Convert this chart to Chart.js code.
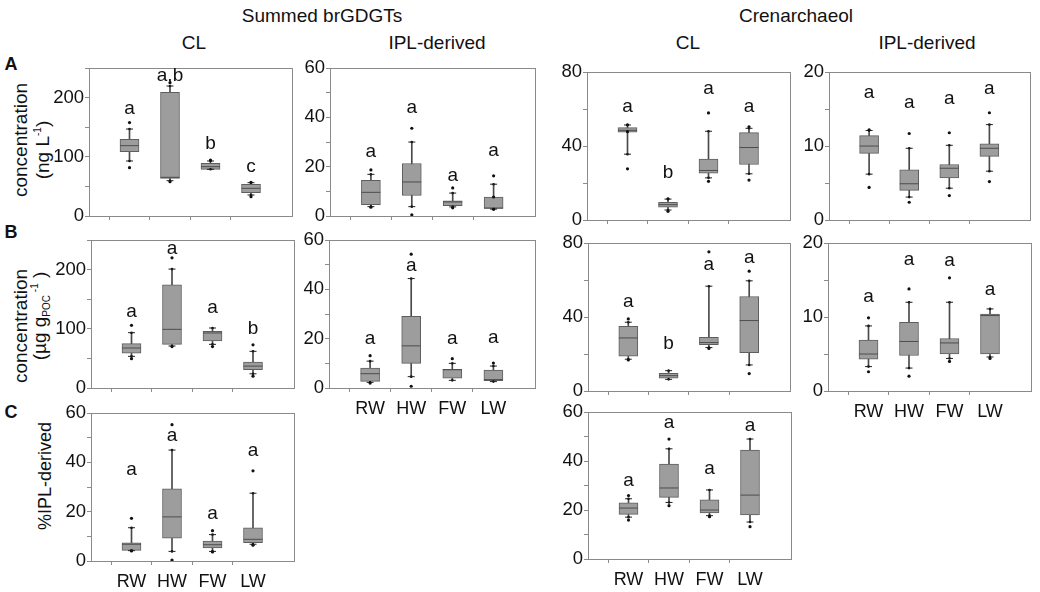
<!DOCTYPE html>
<html>
<head>
<meta charset="utf-8">
<script src="https://cdn.jsdelivr.net/npm/chart.js@4.4.1/dist/chart.umd.min.js"></script>
<style>
body { margin: 0; background: #fff; font-family: "Liberation Sans", Arial, sans-serif; color: #111; }
#fig { position: relative; width: 1040px; height: 592px; overflow: hidden; }
#fig canvas { position: absolute; }
.t { position: absolute; white-space: nowrap; transform: translate(-50%, -50%); font-size: 19px; line-height: 1; }
.v { transform: translate(-50%, -50%) rotate(-90deg); font-size: 19px; }
.p { font-weight: bold; font-size: 18px; }
sup, sub { font-size: 10px; }
</style>
</head>
<body>
<div id="fig">
  <div class="t" style="left:322px;top:15px">Summed brGDGTs</div>
  <div class="t" style="left:796px;top:15px">Crenarchaeol</div>
  <div class="t" style="left:194px;top:42px">CL</div>
  <div class="t" style="left:437px;top:42px">IPL-derived</div>
  <div class="t" style="left:688px;top:42px">CL</div>
  <div class="t" style="left:927px;top:42px">IPL-derived</div>
  <div class="t p" style="left:11px;top:64px">A</div>
  <div class="t p" style="left:11px;top:232px">B</div>
  <div class="t p" style="left:11px;top:412px">C</div>
  <div class="t v" style="left:20px;top:140px">concentration</div>
  <div class="t v" style="left:42px;top:150px">(ng L<sup>-1</sup>)</div>
  <div class="t v" style="left:20px;top:326px">concentration</div>
  <div class="t v" style="left:41px;top:316px">(µg g<sub>POC</sub><sup> -1</sup> )</div>
  <div class="t v" style="left:45px;top:476px;font-size:18px">%IPL-derived</div>
</div>
<script>
const FONT = '"Liberation Sans", Arial, sans-serif';
Chart.defaults.font.family = FONT;

const groups = ['RW', 'HW', 'FW', 'LW'];

// box stats per group: [lower whisker, Q1, median, Q3, upper whisker]
// A: concentration (ng/L)
const brClWater = [[93, 108.7, 118.9, 129.6, 147], [59.7, 63.7, 65.4, 209, 219.7], [78.9, 78.9, 83.4, 89, 93], [35.5, 39.4, 46.8, 53.5, 56.3]];
const brClWaterDots = [[158, 81.7], [225.4, 58], [94.6], [57, 32.7]];
const brClWaterSig = ['a', 'a,b', 'b', 'c'];
const brClWaterSigY = [172, 228, 114, 75];

const brIplWater = [[3.8, 4.6, 9.6, 14.5, 16.9], [3.8, 8.3, 13.8, 21.3, 30], [3.7, 4.2, 5.7, 6.2, 9.3], [2.8, 3.1, 3.2, 7.7, 12.9]];
const brIplWaterDots = [[18.7, 3.6], [35.6, 0.5], [11.4, 3.3], [16.3, 7.7, 2.7]];
const brIplWaterSig = ['a', 'a', 'a', 'a'];
const brIplWaterSigY = [24.1, 41.7, 14.4, 24.5];

const crClWater = [[35.6, 47.5, 48.5, 50, 51.4], [5.4, 7, 8.3, 9.5, 11.3], [22.8, 25.3, 26.8, 32.9, 48], [25, 30, 39.2, 47.3, 49.6]];
const crClWaterDots = [[51.5, 47.8, 27.7], [11.5, 4.7], [57.9, 20.9], [50.4, 21.6]];
const crClWaterSig = ['a', 'b', 'a', 'a'];
const crClWaterSigY = [58.4, 22.5, 68.3, 58.4];

const crIplWater = [[6.2, 9, 10, 11.4, 12.1], [3.1, 4, 4.9, 6.8, 9.7], [4.3, 5.7, 7, 7.5, 10.1], [6.6, 8.6, 9.7, 10.3, 12.9]];
const crIplWaterDots = [[12.2, 4.4], [11.7, 2.4], [11.8, 3.3], [14.5, 5.2]];
const crIplWaterSig = ['a', 'a', 'a', 'a'];
const crIplWaterSigY = [16.5, 15.1, 15.7, 17.1];

// B: concentration (ug per g POC)
const brClPoc = [[53.5, 59, 67.6, 75, 93.5], [71, 73.8, 99.2, 174.6, 201], [73.8, 79.4, 93, 95.8, 101.4], [24, 31, 37, 44, 62]];
const brClPocDots = [[106, 49.6], [220, 70], [70], [73, 20]];
const brClPocSig = ['a', 'a', 'a', 'b'];
const brClPocSigY = [120, 227, 126.8, 92];

const brIplPoc = [[2.3, 2.7, 5.8, 8.1, 10.9], [4.6, 10, 17.1, 29.1, 44.4], [3.1, 4, 7.4, 7.6, 10], [2.6, 3, 3.4, 7.3, 8.9]];
const brIplPocDots = [[13.1, 2], [54.3, 0.7], [11.9], [10.1]];
const brIplPocSig = ['a', 'a', 'a', 'a'];
const brIplPocSigY = [17.8, 47.6, 17.8, 18.2];

const crClPoc = [[17.2, 18.8, 28.7, 35, 37.2], [6.3, 7, 8.3, 9.6, 11], [23.5, 25.1, 26.2, 29, 56.7], [14.1, 20.8, 38.1, 51.1, 59.6]];
const crClPocDots = [[39, 16.8], [], [75.3, 23], [64.8, 9.4]];
const crClPocSig = ['a', 'b', 'a', 'a'];
const crClPocSigY = [45.5, 22.6, 65.4, 69.2];

const crIplPoc = [[3.3, 4.3, 5, 6.9, 8.8], [3.1, 4.8, 6.7, 9.3, 12], [4.4, 5, 6.5, 7.1, 12], [4.6, 5, 10.2, 10.4, 11.1]];
const crIplPocDots = [[9.9, 2.6], [13.8, 2], [15.3, 4], [4.4]];
const crIplPocSig = ['a', 'a', 'a', 'a'];
const crIplPocSigY = [12, 17.1, 16.9, 13];

// C: % IPL-derived
const brPctIpl = [[4.2, 4.3, 6.8, 7.4, 13.5], [3.9, 9.3, 17.9, 29.3, 45], [3.9, 5.3, 6.6, 8.1, 10.7], [6.8, 7.4, 8.8, 13.5, 27.5]];
const brPctIplDots = [[17.3, 4.1], [55.3, 0.4], [12.3, 3.7], [36.6, 6.4]];
const brPctIplSig = ['a', 'a', 'a', 'a'];
const brPctIplSigY = [34.9, 48.5, 17, 42.7];

const crPctIpl = [[17.1, 18.2, 20.8, 22.9, 24.6], [23.1, 25.2, 29, 38.8, 45], [17.7, 18.8, 20, 24.2, 28.2], [15.1, 18, 26.1, 44.5, 49]];
const crPctIplDots = [[25.9, 15.9], [49, 21.8], [17.3], [13.2]];
const crPctIplSig = ['a', 'a', 'a', 'a'];
const crPctIplSigY = [29.7, 53.5, 34.8, 52.1];

// panel layout: plot rect [left, top, right, bottom]
const panels = [
  { box: brClWater, dots: brClWaterDots, sig: brClWaterSig, sigY: brClWaterSigY, yMax: 250, minor: 50, major: 100, rect: [89, 68, 294, 216], xLabels: false },
  { box: brIplWater, dots: brIplWaterDots, sig: brIplWaterSig, sigY: brIplWaterSigY, yMax: 60, minor: 10, major: 20, rect: [330, 68, 537, 216], xLabels: false },
  { box: crClWater, dots: crClWaterDots, sig: crClWaterSig, sigY: crClWaterSigY, yMax: 80, minor: 20, major: 40, rect: [587, 72, 792, 220], xLabels: false },
  { box: crIplWater, dots: crIplWaterDots, sig: crIplWaterSig, sigY: crIplWaterSigY, yMax: 20, minor: 5, major: 10, rect: [829, 72, 1032, 220], xLabels: false },
  { box: brClPoc, dots: brClPocDots, sig: brClPocSig, sigY: brClPocSigY, yMax: 250, minor: 50, major: 100, rect: [91, 240, 296, 388], xLabels: false },
  { box: brIplPoc, dots: brIplPocDots, sig: brIplPocSig, sigY: brIplPocSigY, yMax: 60, minor: 10, major: 20, rect: [329, 240, 537, 388], xLabels: true },
  { box: crClPoc, dots: crClPocDots, sig: crClPocSig, sigY: crClPocSigY, yMax: 80, minor: 20, major: 40, rect: [588, 243, 792, 391], xLabels: false },
  { box: crIplPoc, dots: crIplPocDots, sig: crIplPocSig, sigY: crIplPocSigY, yMax: 20, minor: 5, major: 10, rect: [828, 243, 1033, 391], xLabels: true },
  { box: brPctIpl, dots: brPctIplDots, sig: brPctIplSig, sigY: brPctIplSigY, yMax: 60, minor: 10, major: 20, rect: [91, 413, 296, 561], xLabels: true },
  { box: crPctIpl, dots: crPctIplDots, sig: crPctIplSig, sigY: crPctIplSigY, yMax: 60, minor: 10, major: 20, rect: [588, 412, 793, 559], xLabels: true }
];

const fig = document.getElementById('fig');

const framePlugin = {
  id: 'frame',
  beforeDatasetsDraw(chart) {
    const { ctx, chartArea: a } = chart;
    ctx.save();
    ctx.strokeStyle = '#8a8a8a';
    ctx.lineWidth = 1;
    ctx.strokeRect(Math.round(a.left) + 0.5, Math.round(a.top) + 0.5, Math.round(a.right - a.left), Math.round(a.bottom - a.top));
    ctx.restore();
  }
};

function makeChart(p) {
  const [l, t, r, b] = p.rect;
  const yW = 44, padTop = 12, padRight = 8, xH = p.xLabels ? 36 : 14;
  const w = yW + (r - l) + padRight, h = padTop + (b - t) + xH;
  const canvas = document.createElement('canvas');
  canvas.width = w;
  canvas.height = h;
  canvas.style.left = (l - yW) + 'px';
  canvas.style.top = (t - padTop) + 'px';
  canvas.style.width = w + 'px';
  canvas.style.height = h + 'px';
  fig.appendChild(canvas);

  const labels = [''].concat(groups, ['']);
  const pad = arr => [null].concat(arr, [null]);
  const caps = [], dots = [];
  p.box.forEach((s, i) => caps.push({ x: groups[i], y: s[0] }, { x: groups[i], y: s[4] }));
  p.dots.forEach((list, i) => list.forEach(v => dots.push({ x: groups[i], y: v })));

  // significance letters above each box
  const sigPlugin = {
    id: 'sigLetters',
    afterDatasetsDraw(chart) {
      const { ctx, scales: { x, y } } = chart;
      ctx.save();
      ctx.font = '19px ' + FONT;
      ctx.fillStyle = '#111';
      ctx.textAlign = 'center';
      ctx.textBaseline = 'alphabetic';
      p.sig.forEach((s, i) => ctx.fillText(s, x.getPixelForValue(i + 1), y.getPixelForValue(p.sigY[i])));
      ctx.restore();
    }
  };

  new Chart(canvas, {
    type: 'bar',
    data: {
      labels: labels,
      datasets: [
        { data: pad(p.box.map(s => [s[0], s[4]])), backgroundColor: '#4a4a4a', barThickness: 1, grouped: false, order: 4 },
        { data: pad(p.box.map(s => [s[1], s[3]])), backgroundColor: '#9d9d9d', borderColor: '#5e5e5e', borderWidth: 1, borderSkipped: false, barThickness: 19, grouped: false, order: 3 },
        { type: 'line', data: pad(p.box.map(s => s[2])), showLine: false, pointStyle: 'line', pointRadius: 9.5, pointBorderColor: '#4d4d4d', pointBorderWidth: 1, order: 2 },
        { type: 'line', data: caps, showLine: false, pointStyle: 'line', pointRadius: 3.5, pointBorderColor: '#222', pointBorderWidth: 1, order: 1 },
        { type: 'line', data: caps, showLine: false, pointStyle: 'circle', pointRadius: 1.3, pointBackgroundColor: '#111', pointBorderWidth: 0, order: 1 },
        { type: 'line', data: dots, showLine: false, pointStyle: 'circle', pointRadius: 1.6, pointBackgroundColor: '#111', pointBorderWidth: 0, order: 0 }
      ]
    },
    options: {
      responsive: false,
      animation: false,
      events: [],
      layout: { padding: { top: padTop, right: padRight, left: 0, bottom: 0 } },
      plugins: { legend: { display: false }, tooltip: { enabled: false } },
      scales: {
        x: {
          offset: false,
          border: { display: false },
          grid: {
            drawOnChartArea: false,
            tickLength: 4,
            color: c => (c.index === 0 || c.index === 5) ? 'rgba(0,0,0,0)' : '#8a8a8a'
          },
          ticks: {
            autoSkip: false,
            maxRotation: 0,
            padding: 6,
            color: '#111',
            font: { size: 18 },
            callback: (v, i) => p.xLabels ? labels[i] : ''
          },
          afterFit: s => { s.height = xH; }
        },
        y: {
          min: 0,
          max: p.yMax,
          border: { display: false },
          grid: { drawOnChartArea: false, tickLength: 4, color: '#8a8a8a' },
          ticks: {
            stepSize: p.minor,
            autoSkip: false,
            padding: 1,
            color: '#111',
            font: { size: 18.5 },
            callback: v => v % p.major === 0 ? v : ''
          },
          afterFit: s => { s.width = yW; }
        }
      }
    },
    plugins: [framePlugin, sigPlugin]
  });
}

panels.forEach(makeChart);
</script>
</body>
</html>
